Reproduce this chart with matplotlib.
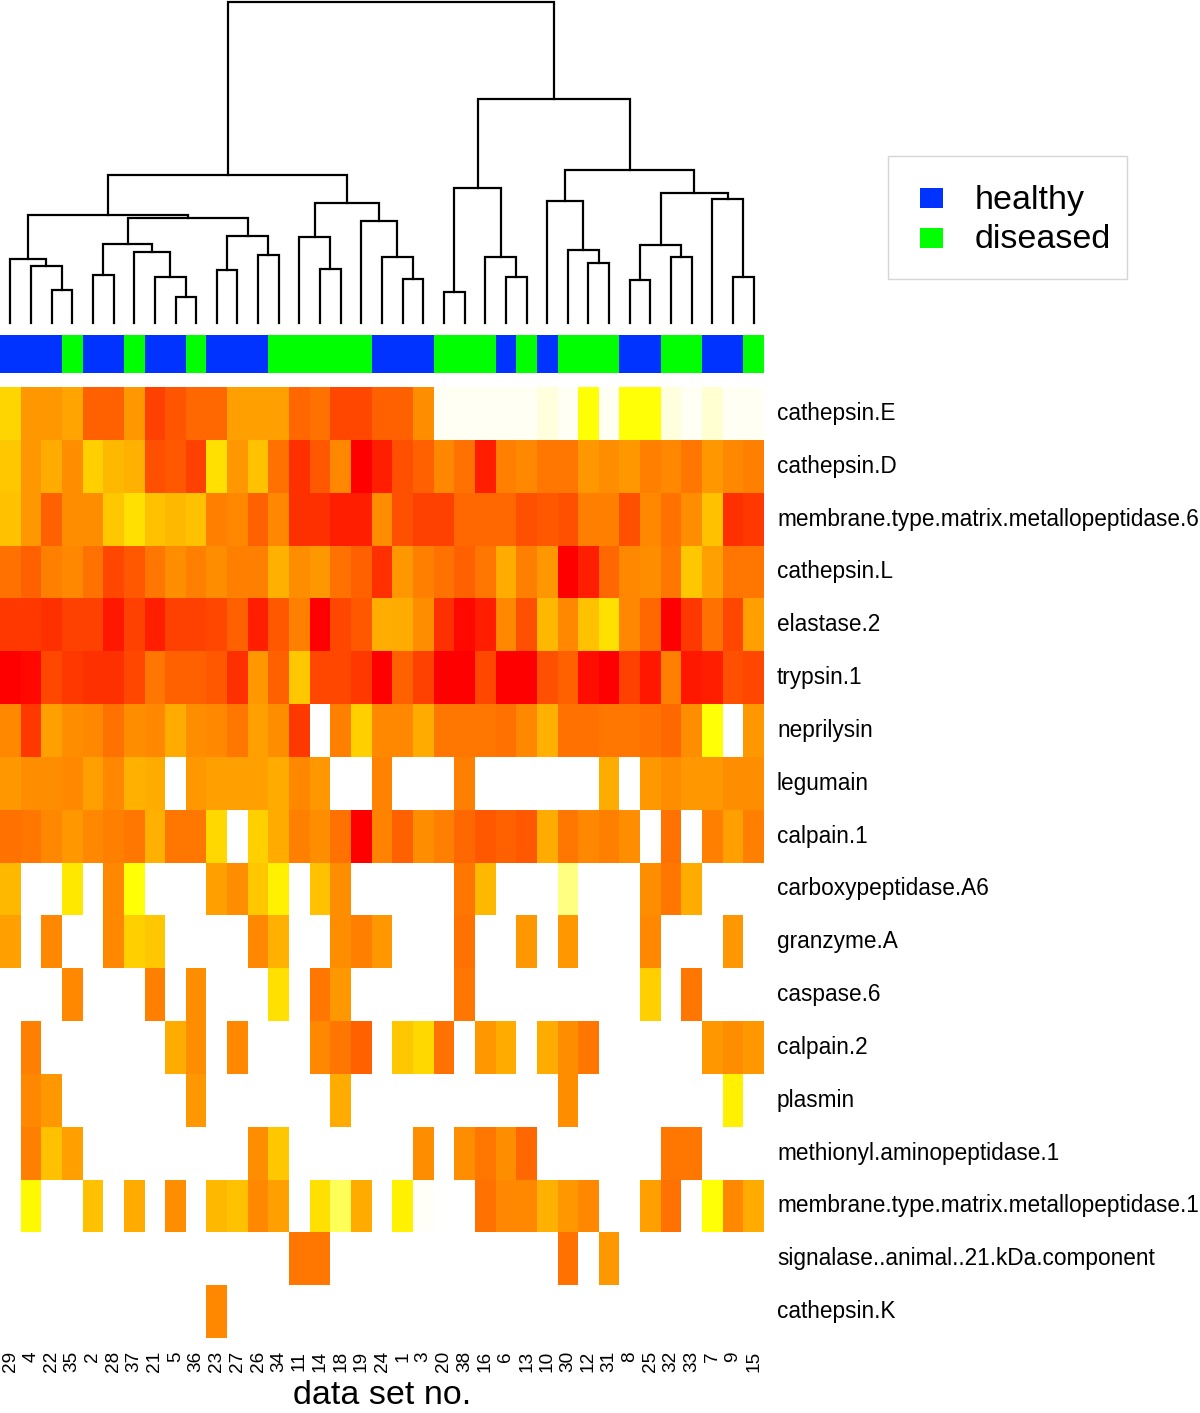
import numpy as np
import matplotlib
matplotlib.use('Agg')
import matplotlib.pyplot as plt
from matplotlib.colors import LinearSegmentedColormap, ListedColormap
from matplotlib.patches import Rectangle
from matplotlib.transforms import blended_transform_factory

plt.rcParams['font.family'] = ['Liberation Sans', 'DejaVu Sans']

_ = np.nan

# ---------------- data ----------------
data_sets = ['29', '4', '22', '35', '2', '28', '37', '21', '5', '36', '23', '27', '26', '34',
             '11', '14', '18', '19', '24', '1', '3', '20', '38', '16', '6', '13', '10', '30',
             '12', '31', '8', '25', '32', '33', '7', '9', '15']

group = ['healthy', 'healthy', 'healthy', 'diseased', 'healthy', 'healthy', 'diseased',
         'healthy', 'healthy', 'diseased', 'healthy', 'healthy', 'healthy', 'diseased',
         'diseased', 'diseased', 'diseased', 'diseased', 'healthy', 'healthy', 'healthy',
         'diseased', 'diseased', 'diseased', 'healthy', 'diseased', 'healthy', 'diseased',
         'diseased', 'diseased', 'healthy', 'healthy', 'diseased', 'diseased', 'healthy',
         'healthy', 'diseased']

proteases = ['cathepsin.E', 'cathepsin.D', 'membrane.type.matrix.metallopeptidase.6',
             'cathepsin.L', 'elastase.2', 'trypsin.1', 'neprilysin', 'legumain', 'calpain.1',
             'carboxypeptidase.A6', 'granzyme.A', 'caspase.6', 'calpain.2', 'plasmin',
             'methionyl.aminopeptidase.1', 'membrane.type.matrix.metallopeptidase.1',
             'signalase..animal..21.kDa.component', 'cathepsin.K']

# colour level per cell: 0 = red ... 9 = yellow ... 12 = near white; nan = empty
cathepsin_E = [7.5, 5.3, 5.3, 5.8, 3.4, 3.4, 5.3, 2.3, 3, 3.7, 3.7, 5.6, 5.6, 5.6, 3.7, 4, 2.5, 2.5,
               3.4, 3.4, 5, 11.9, 11.9, 11.9, 11.9, 11.9, 11.5, 11.9, 9, 11.9, 9, 9, 11.5, 11.9,
               11.3, 11.9, 11.9]
cathepsin_D = [7, 5.3, 6, 5, 7.3, 6.5, 6.2, 2.8, 3.1, 2.3, 7.9, 5.3, 6.8, 4, 1.7, 3.1, 4.8, 0, 1.1,
               2.8, 3.4, 4.8, 4, 1.1, 4.5, 4.8, 4.2, 4.2, 5.3, 5, 5.3, 4.5, 4.8, 4.2, 5.3, 4.8, 4.5]
mmp_6 = [6.8, 5.3, 3.4, 5, 5, 7, 7.9, 6.8, 6.5, 6.8, 4.5, 4.8, 3.4, 4.8, 1.7, 1.7, 1.1, 1.1, 5,
         2.8, 2.3, 2.3, 3.7, 3.7, 3.7, 2.8, 3.1, 2.8, 4.5, 4.5, 2.8, 4.8, 4, 5, 6.8, 1.7, 2]
cathepsin_L = [4, 3.4, 4.5, 4.8, 4, 2.5, 3.1, 4.2, 5, 4.5, 5, 4.5, 4.5, 6.2, 5, 5.3, 4, 3.4, 1.7,
               5.3, 4.5, 4, 3.4, 4.2, 6, 4.5, 5.3, 0, 1.1, 3.7, 4.8, 5, 4.2, 7, 5.6, 4.2, 4.2]
elastase_2 = [2, 2, 1.7, 2.3, 2.3, 0.8, 2.3, 1.1, 2.3, 2.3, 2.5, 3.4, 1.1, 3.1, 4.5, 0, 2.5, 3.1,
              6.1, 6, 5, 1.7, 0.3, 1.1, 4.8, 2.8, 6.5, 4.8, 6.8, 7.9, 4.8, 3.7, 0, 2, 4, 2.5, 5.6]
trypsin_1 = [0, 0.3, 2.5, 2, 1.7, 1.7, 2.5, 4.2, 3.4, 3.4, 3.1, 1.7, 5.3, 3.4, 7, 2.5, 2.5, 2, 0,
             3.4, 2.3, 0, 0, 2.5, 0, 0, 2.8, 3.4, 0.5, 0, 2.3, 0.8, 4.5, 0.8, 1.1, 2.8, 2.5]
neprilysin = [4.8, 2, 5.6, 5, 4.8, 4, 5, 4.8, 6, 5, 4.8, 4.2, 5.6, 5, 2, _, 4.5, 7.3, 4.8,
              4.8, 6, 4.2, 4.2, 4.2, 4, 4.8, 6.2, 4, 4, 4.2, 4.2, 4, 3.7, 5, 9, _, 5.3]
legumain = [5.3, 5, 5, 4.8, 5.6, 4.8, 6.2, 6, _, 5.3, 5.6, 5.6, 5.6, 6, 4.8, 5.3, _, _, 4.6,
            _, _, _, 4.5, _, _, _, _, _, _, 6, _, 5.3, 5, 5.3, 5.3, 5, 5]
calpain_1 = [4, 4.2, 4.8, 5.3, 4.8, 4.5, 4.2, 6.2, 4.2, 4.2, 7.6, _, 7.3, 6, 4.5, 5, 4, 0, 4.6,
             3.4, 5, 4.5, 3.7, 3.1, 3.4, 3.1, 6, 4.2, 4.8, 4.5, 5, _, 4, _, 4.5, 5.6, 4.5]
carboxypeptidase_A6 = [6.5, _, _, 8.2, _, 4.8, 9, _, _, _, 5.6, 5, 7, 8.5, _, 6.8, 5, _, _,
                       _, _, _, 4.2, 6.5, _, _, _, 10, _, _, _, 5, 4.2, 6, _, _, _]
granzyme_A = [5.6, _, 4.8, _, _, 4.8, 7.3, 7, _, _, _, _, 4.8, 6.2, _, _, 5, 4.5, 5.3,
              _, _, _, 4, _, _, 5.3, _, 5.3, _, _, _, 4.8, _, _, _, 5.3, _]
caspase_6 = [_, _, _, 4.8, _, _, _, 4.5, _, 5, _, _, _, 7.9, _, 4.2, 5.3, _, _,
             _, _, _, 4.2, _, _, _, _, _, _, _, _, 7.3, _, 4.2, _, _, _]
calpain_2 = [_, 4.5, _, _, _, _, _, _, 6, 5, _, 4.8, _, _, _, 4.8, 4.2, 3.4, _,
             7, 7.6, 4, _, 5.3, 6, _, 6, 5, 4.2, _, _, _, _, _, 5.3, 5, 5.3]
plasmin = [_, 4.8, 5.3, _, _, _, _, _, _, 5.3, _, _, _, _, _, _, 6, _, _,
           _, _, _, _, _, _, _, _, 5, _, _, _, _, _, _, _, 8.5, _]
methionyl_ap_1 = [_, 4.5, 6.8, 5.6, _, _, _, _, _, _, _, _, 5, 7, _, _, _, _, _,
                  _, 5, _, 5, 4.2, 5, 3.7, _, _, _, _, _, _, 4.2, 4.2, _, _, _]
mmp_1 = [_, 8.8, _, _, 6.8, _, 6, _, 5, _, 6.5, 6.8, 4.8, 5.6, _, 7.9, 9.7, 6, _,
         8.5, 11.95, _, _, 4, 4.8, 4.8, 6.2, 5.3, 4.8, _, _, 5.6, 4, _, 9, 4.8, 6]
signalase = [_, _, _, _, _, _, _, _, _, _, _, _, _, _, 4.2, 4.2, _, _, _,
             _, _, _, _, _, _, _, _, 4, _, 5.3, _, _, _, _, _, _, _]
cathepsin_K = [_, _, _, _, _, _, _, _, _, _, 4.8, _, _, _, _, _, _, _, _,
               _, _, _, _, _, _, _, _, _, _, _, _, _, _, _, _, _, _]

# dendrogram merges: (child a, child b, height); children < 37 are leaf columns,
# children >= 37 refer to earlier merges (37 + index)
merges = [(2, 3, 33), (1, 37, 57), (0, 38, 64), (8, 9, 26), (7, 40, 46), (6, 41, 71),
          (4, 5, 48), (43, 42, 79), (10, 11, 53), (12, 13, 68), (45, 46, 87), (44, 47, 105),
          (39, 48, 108), (15, 16, 54), (14, 50, 86), (19, 20, 44), (18, 52, 66),
          (17, 53, 102), (51, 54, 120), (49, 55, 148), (21, 22, 31), (24, 25, 46),
          (23, 58, 66), (57, 59, 135), (28, 29, 60), (27, 61, 73), (26, 62, 122),
          (30, 31, 43), (32, 33, 66), (64, 65, 78), (35, 36, 46), (34, 67, 124),
          (66, 68, 130), (63, 69, 153), (60, 70, 224.5), (56, 71, 321)]

group_colors = {'healthy': '#0033FF', 'diseased': '#00FF00'}

# ---------------- figure ----------------
W, H = 1200, 1413
fig = plt.figure(figsize=(W / 100, H / 100), dpi=100)


def fx(px):
    return px / W


def fy(py):
    return 1 - py / H


M = np.array([cathepsin_E, cathepsin_D, mmp_6, cathepsin_L, elastase_2, trypsin_1, neprilysin,
              legumain, calpain_1, carboxypeptidase_A6, granzyme_A, caspase_6, calpain_2,
              plasmin, methionyl_ap_1, mmp_1, signalase, cathepsin_K], dtype=float)
nr, nc = M.shape

cmap = LinearSegmentedColormap.from_list(
    'heat', [(0, '#FF0000'), (9 / 12, '#FFFF00'), (10 / 12, '#FFFF80'), (1, '#FFFFFA')])

# heatmap
hm_top, hm_bot, hm_right = 387, 1338, 764
ax = fig.add_axes([0, fy(hm_bot), fx(hm_right), (hm_bot - hm_top) / H])
ax.pcolormesh(np.arange(nc + 1), np.arange(nr + 1), np.ma.masked_invalid(M), cmap=cmap,
              vmin=0, vmax=12, antialiased=False, linewidth=0)
ax.set_xlim(0, nc)
ax.set_ylim(nr, 0)
ax.set_axis_off()

tr = blended_transform_factory(ax.transAxes, ax.transData)
for i, name in enumerate(proteases):
    ax.text(1 + 13 / hm_right, i + 0.5, name, transform=tr, ha='left', va='center',
            fontsize=16.3)
tr2 = blended_transform_factory(ax.transData, ax.transAxes)
for j, lab in enumerate(data_sets):
    ax.text(j + 0.5, -13 / (hm_bot - hm_top), lab, transform=tr2, rotation=90,
            ha='center', va='top', fontsize=13.7)
fig.text(fx(382), fy(1404), 'data set no.', ha='center', va='baseline', fontsize=24.5)

# colour strip
axs = fig.add_axes([0, fy(373), fx(hm_right), (373 - 335) / H])
codes = np.array([[0 if g == 'healthy' else 1 for g in group]])
axs.pcolormesh(np.arange(nc + 1), [0, 1], codes,
               cmap=ListedColormap([group_colors['healthy'], group_colors['diseased']]),
               vmin=0, vmax=1, antialiased=False)
axs.set_xlim(0, nc)
axs.set_ylim(0, 1)
axs.set_axis_off()

# dendrogram
axd = fig.add_axes([0, fy(323), fx(hm_right), (323 - 1) / H])
pos = {i: i + 0.5 for i in range(nc)}
ht = {i: 0.0 for i in range(nc)}
for k, (a, b, h) in enumerate(merges):
    node = nc + k
    axd.plot([pos[a], pos[a], pos[b], pos[b]], [ht[a], h, h, ht[b]], color='black',
             lw=1.6, clip_on=False, solid_joinstyle='miter')
    pos[node] = (pos[a] + pos[b]) / 2
    ht[node] = h
axd.set_xlim(0, nc)
axd.set_ylim(0, 322)
axd.set_axis_off()

# legend
fig.add_artist(Rectangle((fx(888), fy(279)), fx(1127 - 888), (279 - 156) / H,
                         transform=fig.transFigure, fill=False, ec='#D5D5D5', lw=1))
for yc, g in [(198, 'healthy'), (238, 'diseased')]:
    fig.add_artist(Rectangle((fx(920), fy(yc + 10)), fx(23), 20 / H, transform=fig.transFigure,
                             fc=group_colors[g], ec='none'))
    fig.text(fx(975), fy(yc + 2), g, ha='left', va='center', fontsize=24.5)

fig.savefig('out.png', dpi=100)
